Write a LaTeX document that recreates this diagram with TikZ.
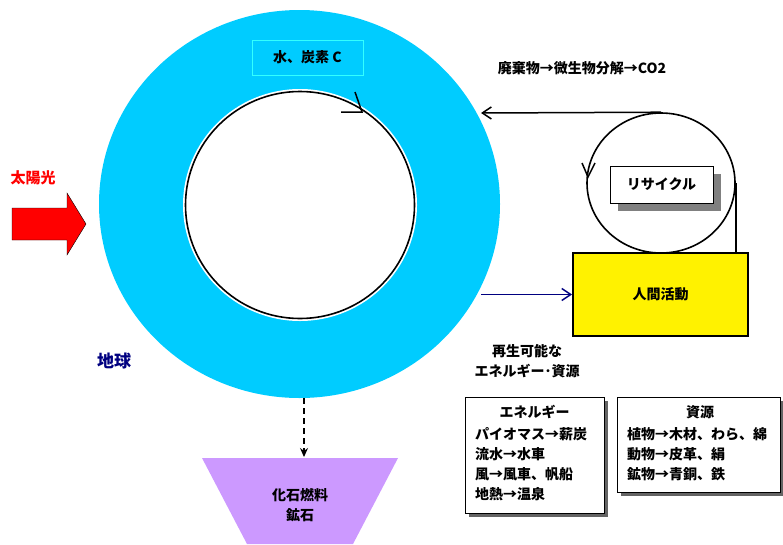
\documentclass[tikz,border=0pt]{standalone}
\usepackage{fontspec}
\setmainfont{Noto Sans CJK JP}
\usetikzlibrary{shapes.geometric,arrows.meta,shadows}
\definecolor{ringcyan}{RGB}{0,204,255}
\definecolor{boxcyan}{RGB}{51,255,255}
\definecolor{fossilc}{RGB}{204,153,255}
\definecolor{navyc}{RGB}{0,0,128}
\definecolor{shadowgray}{RGB}{128,128,128}
\definecolor{shadowdark}{RGB}{100,100,100}
\begin{document}
\begin{tikzpicture}[x=1pt,y=-1pt,
  lbl/.style={font=\fontsize{14}{20}\selectfont\bfseries, inner sep=0pt},
  openarrow/.style={-{Straight Barb[length=9pt,width=12pt,line width=1.5pt]}},
  listbox/.style={draw, fill=white, line width=1pt, inner sep=0pt,
     drop shadow={shadow xshift=4pt, shadow yshift=-4pt, fill=shadowdark, opacity=1}}]
\useasboundingbox (0,0) rectangle (783,544);
% earth ring
\node[ellipse, fill=ringcyan, minimum width=401pt, minimum height=388pt, inner sep=0pt] (earth) at (299.5,204) {};
\node[ellipse, fill=white, minimum width=234pt, minimum height=232pt, inner sep=0pt] (hole) at (300,205) {};
\node[ellipse, draw, line width=1.6pt, minimum width=229pt, minimum height=227pt, inner sep=0pt] (cyc) at (300,205) {};
\draw[line width=1.5pt] (341,112) -- (362,112) -- (355,92);
\node[draw=boxcyan, line width=1pt, fill=ringcyan, minimum width=111pt, minimum height=35pt, lbl] (water) at (307.5,57.5) {水、炭素 C};
% waste text
\node[lbl] (waste) at (582,68) {廃棄物→微生物分解→CO2};
% recycle circle
\node[ellipse, draw, line width=1.6pt, minimum width=148pt, minimum height=140pt, inner sep=0pt] (rc) at (661,183) {};
\coordinate (ringR) at (481,113);
\draw[line width=1.5pt, openarrow] (rc.north) -- (ringR);
\draw[line width=1.5pt] (582,163) -- (588,177) -- (595,163);
\node[draw, fill=white, lbl, line width=0.8pt, minimum width=103pt, minimum height=37pt,
  drop shadow={shadow xshift=8pt, shadow yshift=-8pt, fill=shadowgray, opacity=1}] (recy) at (661.5,184.5) {リサイクル};
% human activity
\node[draw, line width=1.8pt, fill=yellow, minimum width=175pt, minimum height=83pt, lbl] (human) at (660.5,294.5) {人間活動};
\draw[line width=1.5pt] (rc.east) -- (rc.east |- human.north);
\coordinate (ringE) at (481,294.5);
\draw[navyc, line width=1.5pt, openarrow] (ringE) -- (human.west);
\node[lbl, align=center] (renew) at (527,361) {再生可能な\\エネルギー･資源};
% energy box
\node[listbox, minimum width=139pt, minimum height=116pt] (enbox) at (534.5,455) {};
\node[lbl] (entitle) at (534.5,412) {エネルギー};
\node[lbl, anchor=west] (en1) at (475,434) {パイオマス→薪炭};
\node[lbl, anchor=west] (en2) at (475,454) {流水→水車};
\node[lbl, anchor=west] (en3) at (475,474) {風→風車、帆船};
\node[lbl, anchor=west] (en4) at (475,494) {地熱→温泉};
% resource box
\node[listbox, minimum width=163pt, minimum height=95pt] (resbox) at (698.5,444.5) {};
\node[lbl] (restitle) at (700,412) {資源};
\node[lbl, anchor=west] (res1) at (627,434) {植物→木材、わら、綿};
\node[lbl, anchor=west] (res2) at (627,454) {動物→皮革、絹};
\node[lbl, anchor=west] (res3) at (627,474) {鉱物→青銅、鉄};
% fossil
\fill[fossilc] (202,458) -- (398,458) -- (353,544) -- (247,544) -- cycle;
\coordinate (fossiltop) at (304,457);
\coordinate (earthS) at (304,398);
\node[lbl] (fossil1) at (300,495) {化石燃料};
\node[lbl] (fossil2) at (300,515) {鉱石};
\draw[line width=1.2pt, dash pattern=on 6pt off 4pt, -{Stealth[length=9pt,width=8pt]}] (earthS) -- (fossiltop);
% sun
\fill[red, draw=black, line width=0.4pt] (12,208) -- (67,208) -- (67,193) -- (86,224) -- (67,255) -- (67,240) -- (12,240) -- cycle;
\node[lbl, text=red, font=\fontsize{15}{18}\selectfont\bfseries] (sun) at (33,178) {太陽光};
\node[lbl, text=navyc, font=\fontsize{17}{20}\selectfont\bfseries] (chikyu) at (114,361) {地球};
\end{tikzpicture}
\end{document}
